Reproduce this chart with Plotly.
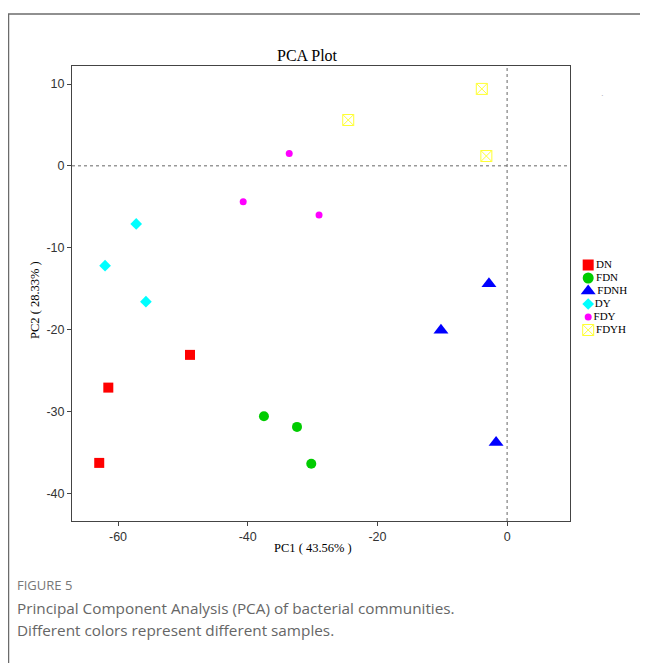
import plotly.graph_objects as go

groups = ["DN", "FDN", "FDNH", "DY", "FDY", "FDYH"]
pc1 = {
    "DN": [-62.9, -61.5, -48.9],
    "FDN": [-37.5, -32.4, -30.2],
    "FDNH": [-10.2, -2.8, -1.7],
    "DY": [-57.2, -62.0, -55.7],
    "FDY": [-33.6, -40.7, -29.0],
    "FDYH": [-24.5, -3.9, -3.2],
}
pc2 = {
    "DN": [-36.3, -27.1, -23.1],
    "FDN": [-30.6, -31.9, -36.4],
    "FDNH": [-20.1, -14.4, -33.8],
    "DY": [-7.1, -12.2, -16.6],
    "FDY": [1.5, -4.4, -6.0],
    "FDYH": [5.6, 9.4, 1.2],
}
x_ticks = [-60, -40, -20, 0]
x_tick_text = ["-60", "-40", "-20", "0"]
y_ticks = [10, 0, -10, -20, -30, -40]
y_tick_text = ["10", "0", "-10", "-20", "-30", "-40"]

styles = {
    "DN": dict(symbol="square", color="#ff0000", size=10),
    "FDN": dict(symbol="circle", color="#00cc00", size=10),
    "FDNH": dict(symbol="triangle-up", color="#0000ff", size=13),
    "DY": dict(symbol="diamond", color="#00ffff", size=9),
    "FDY": dict(symbol="circle", color="#ff00ff", size=7),
    "FDYH": dict(symbol="square-x-open", color="#ffff33", size=11),
}

# page body has an 8px margin; figure is 640x655 placed at (8, 8)
W, H, OFF = 640, 655, 8
def px(x):
    return (x - OFF) / W
def py(y):
    return 1 - (y - OFF) / H

fig = go.Figure()
for g in groups:
    s = styles[g]
    fig.add_trace(go.Scatter(
        x=pc1[g], y=pc2[g], mode="markers", name=g, showlegend=False,
        marker=dict(symbol=s["symbol"], color=s["color"], size=s["size"],
                    line=dict(width=1 if "open" in s["symbol"] else 0, color=s["color"])),
        xaxis="x", yaxis="y",
    ))

# manual compact legend on its own axes
legend_sizes = {"DN": 11, "FDN": 11, "FDNH": 13, "DY": 9, "FDY": 7, "FDYH": 11}
for i, g in enumerate(groups):
    s = styles[g]
    fig.add_trace(go.Scatter(
        x=[0], y=[i], mode="markers+text", text=[g], textposition="middle right",
        textfont=dict(family="Liberation Serif", size=11, color="#000"),
        marker=dict(symbol=s["symbol"], color=s["color"], size=legend_sizes[g],
                    line=dict(width=1 if "open" in s["symbol"] else 0, color=s["color"])),
        showlegend=False, xaxis="x2", yaxis="y2", cliponaxis=False,
    ))

fig.add_shape(type="line", x0=0, x1=0, y0=0, y1=1, xref="x", yref="y domain",
              line=dict(color="#666", width=1, dash="dot"))
fig.add_shape(type="line", x0=0, x1=1, y0=0, y1=0, xref="x domain", yref="y",
              line=dict(color="#666", width=1, dash="dot"))

# card border
fig.add_shape(type="line", xref="paper", yref="paper", x0=px(8), x1=1, y0=py(14), y1=py(14),
              line=dict(color="#6b6b6b", width=1.5))
fig.add_shape(type="line", xref="paper", yref="paper", x0=px(8.5), x1=px(8.5), y0=0, y1=py(14),
              line=dict(color="#6b6b6b", width=1.5))

axis_common = dict(showline=True, linecolor="#444", linewidth=1, mirror=True, ticks="outside",
                   ticklen=4, tickcolor="#444", showgrid=False, zeroline=False,
                   tickfont=dict(family="Liberation Sans", size=12.5, color="#333"))

fig.update_layout(
    width=W, height=H,
    margin=dict(l=0, r=0, t=0, b=0),
    paper_bgcolor="white", plot_bgcolor="white",
    xaxis=dict(domain=[px(72), px(570)], range=[-67.1, 9.7], tickvals=x_ticks, ticktext=x_tick_text,
               anchor="y", **axis_common),
    yaxis=dict(domain=[py(521), py(66)], range=[-43.4, 12.2], tickvals=y_ticks, ticktext=y_tick_text,
               anchor="x", **axis_common),
    xaxis2=dict(domain=[px(583), px(640)], range=[-0.5, 5], visible=False, anchor="y2"),
    yaxis2=dict(domain=[py(336.5), py(258.5)], range=[5.5, -0.5], visible=False, anchor="x2"),
    showlegend=False,
)

def note(text, x, y, size, family, color, xanchor="center", angle=0):
    fig.add_annotation(text=text, x=px(x), y=py(y), xref="paper", yref="paper",
                       xanchor=xanchor, yanchor="middle", showarrow=False, textangle=angle,
                       font=dict(family=family, size=size, color=color))

note("PCA Plot", 307, 55, 16, "Liberation Serif", "#000")
note("PC1 ( 43.56% )", 313, 548, 12.5, "Liberation Serif", "#000")
note("PC2 ( 28.33% )", 35, 300, 12.5, "Liberation Serif", "#000", angle=-90)
note("·", 602, 96, 8, "Liberation Sans", "#999")
note("FIGURE 5", 15, 585, 13, "Open Sans", "#777", xanchor="left")
note("Principal Component Analysis (PCA) of bacterial communities.", 15, 608, 15.3, "Open Sans", "#666", xanchor="left")
note("Different colors represent different samples.", 15, 630, 15.3, "Open Sans", "#666", xanchor="left")

fig.write_html("out.html")
